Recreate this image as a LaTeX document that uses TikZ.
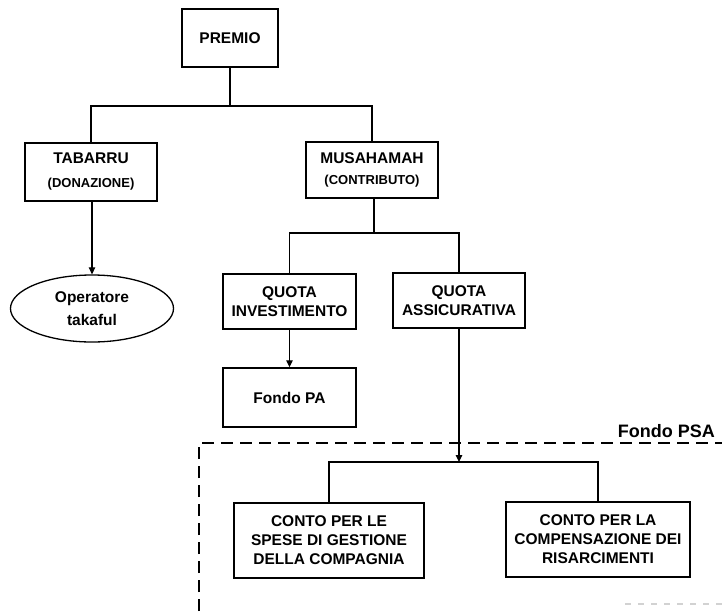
\documentclass[tikz,border=0pt]{standalone}
\usepackage{fontspec}
\setmainfont{Liberation Sans}
\usetikzlibrary{shapes.geometric,arrows.meta}
\begin{document}
\begin{tikzpicture}[x=1pt,y=-1pt]
\tikzset{
  lbl/.style={font=\bfseries\fontsize{15.5}{19}\selectfont, align=center, inner sep=0pt},
  block/.style={lbl, draw, line width=1.4pt},
  oval/.style={lbl, draw, ellipse, line width=1.3pt},
  link/.style={line width=1.2pt},
  arr/.style={link, -{Triangle[length=7pt,width=6.5pt]}},
  fund/.style={dashed, line width=1.5pt, dash pattern=on 12pt off 7pt},
  sub/.style={font=\bfseries\fontsize{13}{15}\selectfont}
}
\useasboundingbox (0,0) rectangle (722,613);
\clip (0,0) rectangle (722,613);

% boxes
\node[block, minimum width=96pt,  minimum height=58pt] (premio)  at (230,38)    {PREMIO};
\node[block, minimum width=132pt, minimum height=58pt] (tabarru) at (91,172)    {TABARRU\\[5pt]{\fontsize{13}{15}\selectfont (DONAZIONE)}};
\node[block, minimum width=132pt, minimum height=56pt] (musa)    at (372,170)   {MUSAHAMAH\\[2pt]{\fontsize{13}{15}\selectfont (CONTRIBUTO)}};
\node[oval,  minimum width=163pt, minimum height=67pt] (oper)    at (92,308.5)  {Operatore\\[4pt]takaful};
\node[block, minimum width=133pt, minimum height=55pt] (qi)      at (289.5,301.5) {QUOTA\\INVESTIMENTO};
\node[block, minimum width=132pt, minimum height=55pt] (qa)      at (459,300.5) {QUOTA\\ASSICURATIVA};
\node[block, minimum width=133pt, minimum height=59pt] (fpa)     at (289.5,397.5) {Fondo PA};
\node[block, minimum width=190pt, minimum height=75pt] (c1)      at (329,540.5) {CONTO PER LE\\SPESE DI GESTIONE\\DELLA COMPAGNIA};
\node[block, minimum width=184pt, minimum height=75pt] (c2)      at (598,539.5) {CONTO PER LA\\COMPENSAZIONE DEI\\RISARCIMENTI};

% junction points of the tree connectors
\coordinate (j1) at (230,106);
\coordinate (j2) at (374,233);
\coordinate (j3) at (459,462);

% connectors
\draw[link] (premio.south) -- (j1);
\draw[link] (tabarru.north) |- (j1) -| (musa.north);
\draw[arr] (oper.north |- tabarru.south) -- (oper.north);
\draw[link] (musa.south -| j2) -- (j2);
\draw[link] (qi.north) |- (j2) -| (qa.north);
\draw[arr] (qi.south) -- (fpa.north);
\draw[arr] (qa.south) -- (j3);
\draw[link] (c1.north) |- (j3) -| (c2.north);

% the PSA fund region
\draw[fund] (199,630) -- (199,443) -- (740,443);
\node[font=\bfseries\fontsize{18}{20}\selectfont, anchor=base east, inner sep=0pt] (psa) at (715,437) {Fondo PSA};
\draw[gray!35, line width=2pt, dash pattern=on 6pt off 7pt] (625,604) -- (722,604);
\end{tikzpicture}
\end{document}
